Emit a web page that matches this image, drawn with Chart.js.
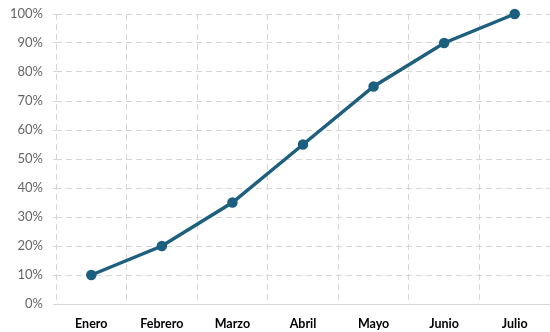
<!DOCTYPE html>
<html>
<head>
<meta charset="utf-8">
<script src="https://cdn.jsdelivr.net/npm/chart.js@4/dist/chart.umd.min.js"></script>
<style>
  html, body { margin: 0; padding: 0; background: #fff; overflow: hidden; }
  #wrap { width: 550px; height: 332px; position: relative; }
</style>
</head>
<body>
<div id="wrap"><canvas id="chart"></canvas></div>
<script>
// meses y avance acumulado (%)
const meses = ['Enero', 'Febrero', 'Marzo', 'Abril', 'Mayo', 'Junio', 'Julio'];
const avance = [10, 20, 35, 55, 75, 90, 100];

const lineColor = '#1c5f7e';
const gridColor = '#d6d6d6';

const ctx = document.getElementById('chart').getContext('2d');
new Chart(ctx, {
    type: 'line',
    data: {
        labels: meses,
        datasets: [{
            data: avance,
            borderColor: lineColor,
            backgroundColor: lineColor,
            borderWidth: 3.5,
            pointRadius: 3.5,
            pointHoverRadius: 3.5,
            tension: 0,
            clip: false
        }]
    },
    options: {
        responsive: true,
        maintainAspectRatio: false,
        animation: false,
        layout: { autoPadding: false, padding: { top: 14, right: 0, left: 0, bottom: 0 } },
        plugins: {
            legend: { display: false },
            tooltip: { enabled: false }
        },
        scales: {
            x: {
                offset: true,
                afterFit: (scale) => {
                    scale.height = 28;
                    scale.paddingLeft = 0;
                    scale.paddingRight = 0;
                },
                grid: {
                    offset: true,
                    color: gridColor,
                    drawTicks: false
                },
                border: { display: true, color: gridColor, dash: [6, 4] },
                ticks: {
                    color: '#000',
                    padding: 12,
                    font: { family: 'Lato', size: 12.5, weight: 'bold' }
                }
            },
            y: {
                min: 0,
                max: 100,
                afterFit: (scale) => {
                    scale.width = 56;
                    scale.paddingTop = 0;
                    scale.paddingBottom = 0;
                },
                grid: {
                    color: gridColor,
                    tickLength: 3
                },
                border: { display: false, dash: [6, 4] },
                ticks: {
                    stepSize: 10,
                    color: '#666',
                    padding: 10,
                    font: { family: 'Lato', size: 13 },
                    callback: (v) => v + '%'
                }
            }
        }
    }
});
</script>
</body>
</html>
